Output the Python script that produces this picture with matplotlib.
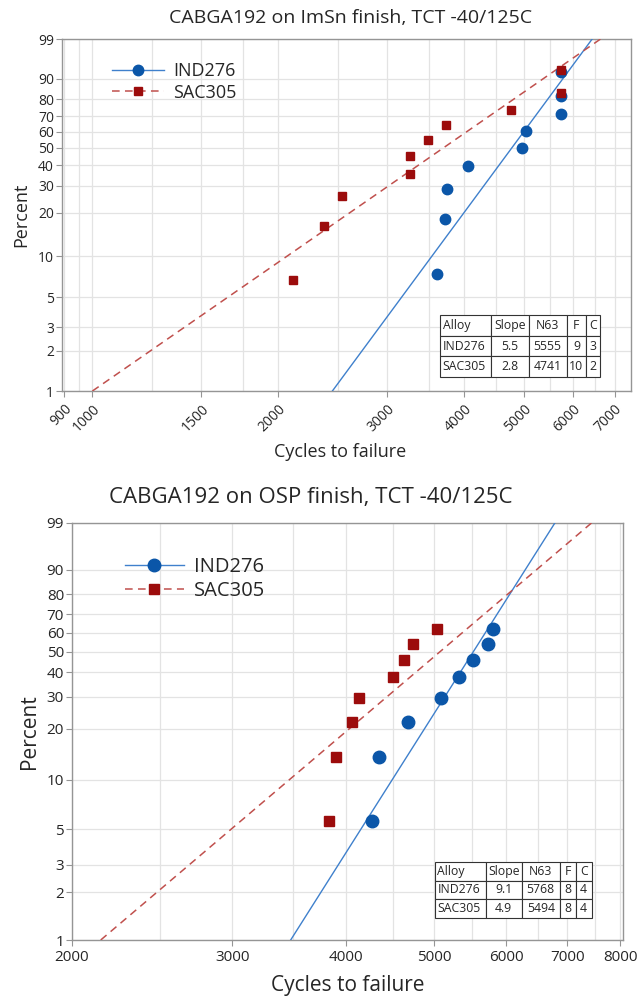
import numpy as np
import matplotlib
matplotlib.use('Agg')
import matplotlib.pyplot as plt
from matplotlib.lines import Line2D

plt.rcParams['font.family'] = ['Open Sans', 'DejaVu Sans']

# ---- data ----
# top panel: ImSn finish
imsn_ind_cycles = [3610, 3720, 3750, 4060, 4960, 5030, 5740, 5740, 5740]
imsn_ind_pct = [7.4, 18.1, 28.7, 39.4, 50.0, 60.6, 71.3, 81.9, 92.6]
imsn_sac_cycles = [2110, 2370, 2535, 3260, 3260, 3490, 3740, 4750, 5740, 5740]
imsn_sac_pct = [6.7, 16.3, 26.0, 35.6, 45.2, 54.8, 64.4, 74.0, 83.7, 93.3]
imsn_ind_fit = [2445, 6436]   # cycles at 1% and 99%
imsn_sac_fit = [1000, 6640]
imsn_table = [['Alloy', 'Slope', 'N63', 'F', 'C'],
              ['IND276', '5.5', '5555', '9', '3'],
              ['SAC305', '2.8', '4741', '10', '2']]
imsn_xticks = [900, 1000, 1500, 2000, 3000, 4000, 5000, 6000, 7000]
imsn_xgrid = [950, 1250, 1750, 2500, 3500, 4500, 5500, 6500]

# bottom panel: OSP finish
osp_ind_cycles = [4275, 4350, 4675, 5080, 5325, 5515, 5725, 5800]
osp_sac_cycles = [3835, 3905, 4060, 4130, 4500, 4630, 4740, 5030]
osp_pct = [5.6, 13.7, 21.8, 29.8, 37.9, 46.0, 54.0, 62.1]
osp_ind_fit = [3478, 6784]
osp_sac_fit = [2152, 7444]
osp_table = [['Alloy', 'Slope', 'N63', 'F', 'C'],
             ['IND276', '9.1', '5768', '8', '4'],
             ['SAC305', '4.9', '5494', '8', '4']]
osp_xticks = [2000, 3000, 4000, 5000, 6000, 7000, 8000]
osp_xgrid = [2500, 3500, 4500, 5500, 6500, 7500]

fit_pct = [1, 99]
pct_ticks = [1, 2, 3, 5, 10, 20, 30, 40, 50, 60, 70, 80, 90, 99]

BLUE_PT = '#0b56a8'
BLUE_LN = '#3f80cc'
RED_PT = '#9c0c0c'
RED_LN = '#c0504d'
GRID = '#e3e3e3'
SPINE = '#959595'
TXT = '#262626'


def wb_fwd(p):
    p = np.clip(np.asarray(p, dtype=float), 1e-6, 100 - 1e-6)
    return np.log(-np.log(1 - p / 100.0))


def wb_inv(w):
    return 100.0 * (1 - np.exp(-np.exp(w)))


def panel(ax, ind_x, ind_p, sac_x, sac_p, ind_fit, sac_fit, xlim, xticks, xgrid,
          table, tbbox, colw, fs, ms, leg_anchor, rot):
    ax.set_xscale('log')
    ax.set_yscale('function', functions=(wb_fwd, wb_inv))

    ax.plot(ind_fit, fit_pct, color=BLUE_LN, lw=1.0, zorder=3)
    ax.plot(sac_fit, fit_pct, color=RED_LN, lw=1.1, dashes=(5, 3.5), zorder=3)
    ax.plot(ind_x, ind_p, ls='none', marker='o', ms=ms, color=BLUE_PT, zorder=4)
    ax.plot(sac_x, sac_p, ls='none', marker='s', ms=ms * 0.85, color=RED_PT, zorder=4)

    ax.set_xlim(*xlim)
    ax.set_ylim(1, 99)
    ax.set_yticks(pct_ticks)
    ax.set_yticklabels([str(t) for t in pct_ticks])
    ax.yaxis.set_minor_locator(matplotlib.ticker.NullLocator())
    ax.set_xticks(xticks)
    ax.set_xticklabels([str(t) for t in xticks])
    ax.set_xticks(xgrid, minor=True)
    ax.xaxis.set_minor_formatter(matplotlib.ticker.NullFormatter())

    ax.grid(which='both', color=GRID, lw=0.9, zorder=0)
    ax.set_axisbelow(True)
    ax.tick_params(which='major', direction='out', length=4, width=0.8, color=SPINE,
                   labelcolor=TXT, labelsize=fs['tick'])
    ax.tick_params(axis='y', which='major', pad=1.5)
    ax.tick_params(axis='x', which='major', pad=3.5)
    ax.tick_params(which='minor', length=0)
    for s in ax.spines.values():
        s.set_color(SPINE)
        s.set_linewidth(1.0)
    if rot:
        for lb in ax.get_xticklabels():
            lb.set_rotation(45)
            lb.set_ha('right')
            lb.set_rotation_mode('anchor')

    handles = [Line2D([], [], color=BLUE_LN, lw=1.0, marker='o', ms=ms,
                      mfc=BLUE_PT, mec=BLUE_PT),
               Line2D([], [], color=RED_LN, lw=1.1, dashes=(5, 3.5), marker='s',
                      ms=ms * 0.85, mfc=RED_PT, mec=RED_PT)]
    ax.legend(handles, ['IND276', 'SAC305'], loc='upper left', bbox_to_anchor=leg_anchor,
              frameon=False, numpoints=1, handlelength=2.9, handletextpad=0.5,
              borderpad=0, borderaxespad=0, labelspacing=0.2,
              prop={'size': fs['leg']}, labelcolor=TXT)

    tb = ax.table(cellText=table, bbox=tbbox, colWidths=colw, cellLoc='center')
    tb.auto_set_font_size(False)
    tb.set_fontsize(fs['table'])
    tb.set_zorder(5)
    for (r, c), cell in tb.get_celld().items():
        cell.set_edgecolor('#333333')
        cell.set_linewidth(0.8)
        cell.set_facecolor('white')
        cell.get_text().set_color(TXT)
        if c == 0:
            cell.set_text_props(ha='left')
            cell.PAD = 0.05

    ax.set_xlabel('Cycles to failure', fontsize=fs['label'], color=TXT)
    ax.set_ylabel('Percent', fontsize=fs['label'], color=TXT)


fig = plt.figure(figsize=(6.41, 9.98), dpi=100)

ax1 = fig.add_axes([0.0963, 0.6082, 0.8882, 0.3527])
panel(ax1, imsn_ind_cycles, imsn_ind_pct, imsn_sac_cycles, imsn_sac_pct,
      imsn_ind_fit, imsn_sac_fit, (892, 7440), imsn_xticks, imsn_xgrid,
      imsn_table, [0.6645, 0.0398, 0.281, 0.176], [51, 37, 38, 19, 14],
      {'tick': 10, 'leg': 13, 'label': 13, 'table': 8.8}, 7.5, (0.088, 0.935), True)
ax1.xaxis.set_label_coords(0.489, -0.148)
ax1.yaxis.set_label_coords(-0.056, 0.5)

ax2 = fig.add_axes([0.1119, 0.0581, 0.8596, 0.4181])
panel(ax2, osp_ind_cycles, osp_pct, osp_sac_cycles, osp_pct,
      osp_ind_fit, osp_sac_fit, (2000, 8050), osp_xticks, osp_xgrid,
      osp_table, [0.659, 0.0527, 0.2847, 0.1349], [51, 36, 38, 16, 16],
      {'tick': 11, 'leg': 14.5, 'label': 15, 'table': 8.8}, 9, (0.097, 0.918), False)
ax2.xaxis.set_label_coords(0.501, -0.083)
ax2.yaxis.set_label_coords(-0.058, 0.5)

fig.text(351 / 641, 1 - 18 / 998, 'CABGA192 on ImSn finish, TCT -40/125C',
         ha='center', va='center', fontsize=14, color=TXT)
fig.text(311 / 641, 1 - 498 / 998, 'CABGA192 on OSP finish, TCT -40/125C',
         ha='center', va='center', fontsize=16, color=TXT)

fig.savefig('out.png', dpi=100)
